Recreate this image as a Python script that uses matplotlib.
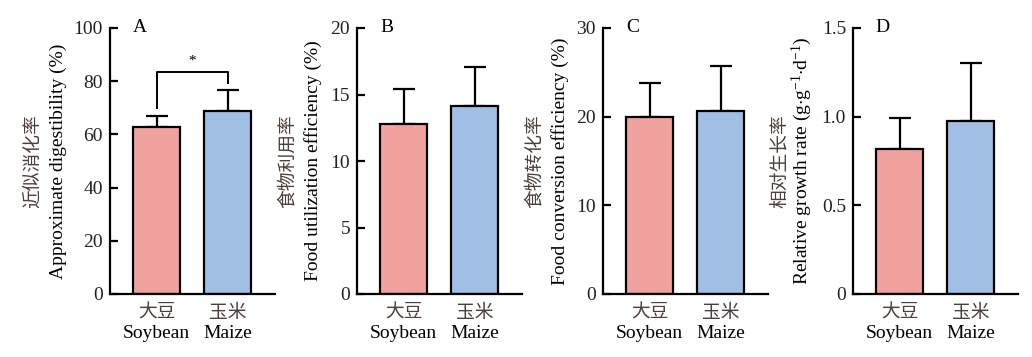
import matplotlib
matplotlib.use('Agg')
import matplotlib.pyplot as plt

plt.rcParams['font.family'] = ['Liberation Serif', 'Noto Sans CJK SC']
plt.rcParams['mathtext.fontset'] = 'custom'
plt.rcParams['mathtext.rm'] = 'Liberation Serif'
plt.rcParams['mathtext.it'] = 'Liberation Serif'

groups_cn = ['大豆', '玉米']
groups_en = ['Soybean', 'Maize']

digestibility = [62.9, 68.9]
digestibility_err = [4.0, 7.8]
utilization = [12.75, 14.1]
utilization_err = [2.7, 3.0]
conversion = [20.0, 20.6]
conversion_err = [3.85, 5.15]
growth = [0.82, 0.977]
growth_err = [0.175, 0.323]

panels = [
    ('A', digestibility, digestibility_err, 100, [0, 20, 40, 60, 80, 100], ['0', '20', '40', '60', '80', '100'],
     '近似消化率', 'Approximate digestibility (%)', 110, -0.467, -0.315),
    ('B', utilization, utilization_err, 20, [0, 5, 10, 15, 20], ['0', '5', '10', '15', '20'],
     '食物利用率', 'Food utilization efficiency (%)', 357, -0.418, -0.267),
    ('C', conversion, conversion_err, 30, [0, 10, 20, 30], ['0', '10', '20', '30'],
     '食物转化率', 'Food conversion efficiency (%)', 603, -0.41, -0.26),
    ('D', growth, growth_err, 1.5, [0, 0.5, 1.0, 1.5], ['0', '0.5', '1.0', '1.5'],
     '相对生长率', r'Relative growth rate (g$\cdot$g$^{\mathrm{-1}}$$\cdot$d$^{\mathrm{-1}}$)', 853, -0.44, -0.309),
]

colors = ['#F2A29E', '#A1BFE4']
cn_color = '#4e3f3a'
fs = 14

fig = plt.figure(figsize=(10.32, 3.57), dpi=100)
W, H = 1032, 357

for letter, vals, errs, ymax, ticks, ticklabels, lab_cn, lab_en, left_px, x_cn, x_en in panels:
    ax = fig.add_axes([left_px / W, 1 - 294 / H, 165 / W, 266 / H])
    x = [0, 1]
    ax.bar(x, vals, width=0.66, color=colors, edgecolor='black', linewidth=1.6, zorder=2)
    ax.errorbar(x, vals, yerr=[[0, 0], errs], fmt='none', ecolor='black',
                elinewidth=1.6, capsize=8, capthick=1.6, zorder=1)
    ax.set_xlim(-0.66, 1.67)
    ax.set_ylim(0, ymax)
    ax.set_yticks(ticks)
    ax.set_yticklabels(ticklabels)
    ax.spines['top'].set_visible(False)
    ax.spines['right'].set_visible(False)
    ax.spines['left'].set_linewidth(1.6)
    ax.spines['bottom'].set_linewidth(1.6)
    ax.tick_params(axis='y', direction='in', length=5.5, width=1.6, labelsize=fs, pad=5,
                   labelcolor='#222222')
    ax.tick_params(axis='x', length=0, labelbottom=False)
    for xi, cn, en in zip(x, groups_cn, groups_en):
        ax.text(xi, -0.072 * ymax, cn, ha='center', va='center', fontsize=fs - 0.5, color=cn_color)
        ax.text(xi, -0.148 * ymax, en, ha='center', va='center', fontsize=fs, color='black')
    ax.text(0.18, 1.0, letter, transform=ax.transAxes, ha='center', va='center', fontsize=fs)
    ax.text(x_cn, 0.5, lab_cn, transform=ax.transAxes, rotation=90, ha='center', va='center',
            fontsize=fs - 0.5, color=cn_color)
    ax.text(x_en, 0.5, lab_en, transform=ax.transAxes, rotation=90, ha='center', va='center',
            fontsize=fs, color='black')
    if letter == 'A':
        ax.plot([0, 0, 1, 1], [70, 83.5, 83.5, 79.3], color='black', linewidth=1.4, zorder=3)
        ax.text(0.5, 85, '*', ha='center', va='bottom', fontsize=11)

fig.savefig('out.png', dpi=100)
